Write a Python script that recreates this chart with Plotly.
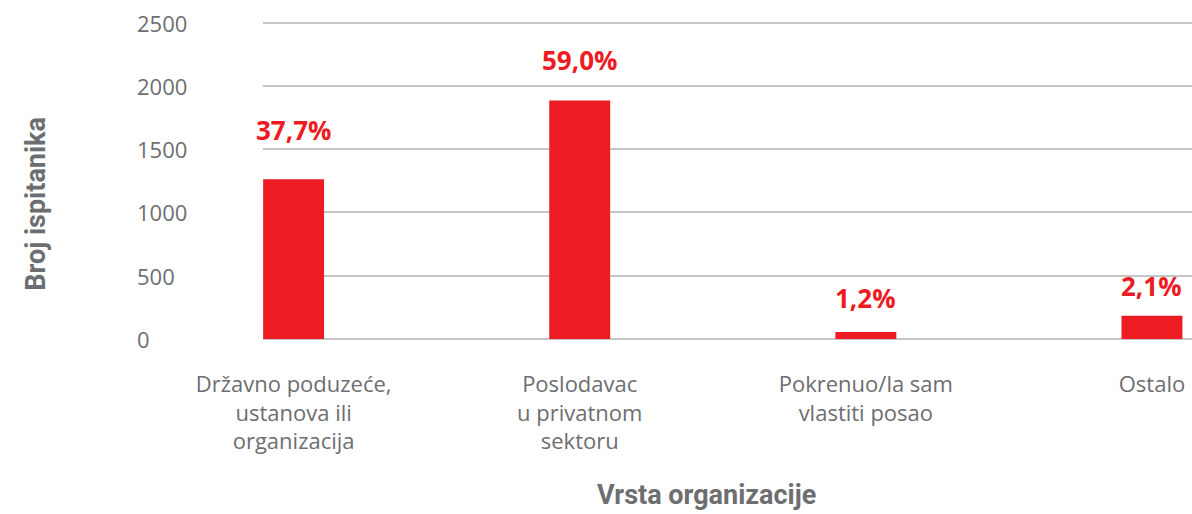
import plotly.graph_objects as go

categories = [
    "Državno poduzeće,<br>ustanova ili<br>organizacija",
    "Poslodavac<br>u privatnom<br>sektoru",
    "Pokrenuo/la sam<br>vlastiti posao",
    "Ostalo",
]
counts = [1262, 1885, 56, 183]
percent_labels = ["37,7%", "59,0%", "1,2%", "2,1%"]
y_ticks = [0, 500, 1000, 1500, 2000, 2500]
y_title = "Broj ispitanika"
x_title = "Vrsta organizacije"

RED = "#ED1C24"
GRAY = "#6d6e71"
GRID = "#c6c6c6"
label_shift = [29, 20, 14, 10]

x_idx = list(range(len(categories)))

fig = go.Figure()
fig.add_trace(go.Bar(
    x=x_idx, y=counts, width=0.213,
    marker=dict(color=RED, line=dict(width=0)),
    hoverinfo="skip",
))

annotations = []
for i, (v, t) in enumerate(zip(counts, percent_labels)):
    annotations.append(dict(
        x=i, y=v, xref="x", yref="y", text=t, showarrow=False,
        yanchor="bottom", xanchor="center", yshift=label_shift[i],
        font=dict(family="Open Sans", size=26, color=RED, weight="bold"),
    ))
for tv in y_ticks:
    annotations.append(dict(
        x=-0.1378, y=tv, xref="paper", yref="y", text=str(tv), showarrow=False,
        xanchor="left", yanchor="middle",
        font=dict(family="Open Sans", size=22, color=GRAY),
    ))
annotations.append(dict(
    x=-0.2443, y=0.424, xref="paper", yref="paper", text=y_title, showarrow=False,
    textangle=-90, xanchor="center", yanchor="middle",
    font=dict(family="Roboto", size=27, color=GRAY, weight="bold"),
))
annotations.append(dict(
    x=0.477, y=-0.49, xref="paper", yref="paper", text=x_title, showarrow=False,
    xanchor="center", yanchor="middle",
    font=dict(family="Roboto", size=27, color=GRAY, weight="bold"),
))

fig.update_layout(
    width=1192, height=514,
    margin=dict(l=263, r=0, t=20, b=175),
    plot_bgcolor="white", paper_bgcolor="white",
    showlegend=False,
    annotations=annotations,
    xaxis=dict(
        range=[-0.107, 3.14],
        tickmode="array", tickvals=x_idx, ticktext=categories,
        tickfont=dict(family="Open Sans", size=22, color=GRAY),
        showgrid=False, zeroline=False, showline=False,
        ticks="", ticklabelstandoff=30,
    ),
    yaxis=dict(
        range=[0, 2520],
        tickmode="array", tickvals=y_ticks,
        showticklabels=False,
        showgrid=True, gridcolor=GRID, gridwidth=1.6,
        zeroline=True, zerolinecolor=GRID, zerolinewidth=1.6,
        showline=False,
    ),
)

fig.write_html(
    "out.html",
    config={"displayModeBar": False},
    post_script="document.body.style.margin='0';document.body.style.overflow='hidden';",
)
